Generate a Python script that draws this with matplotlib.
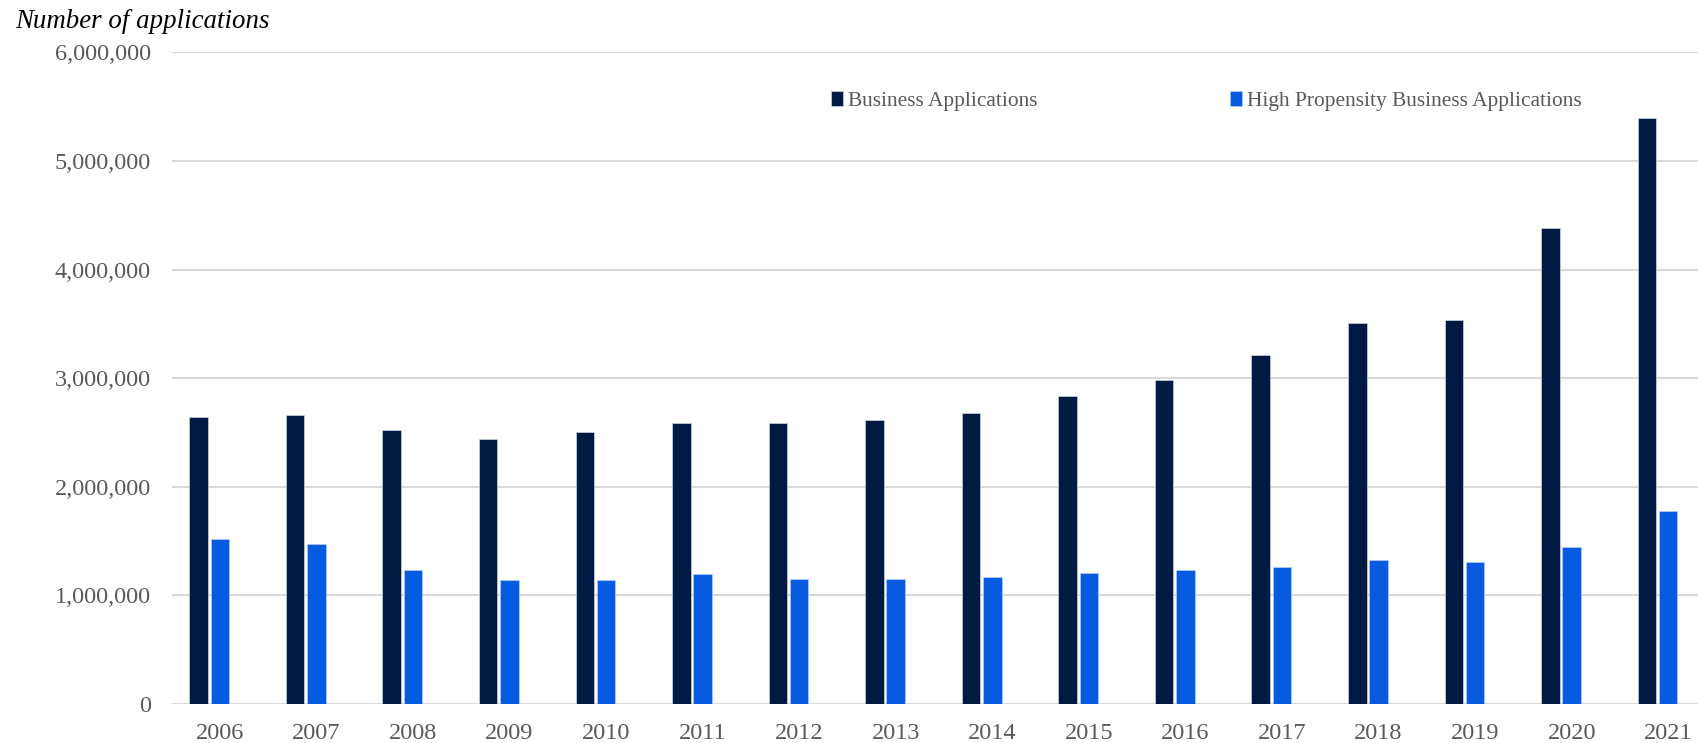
import numpy as np
from matplotlib import pyplot as plt
from matplotlib.ticker import FuncFormatter

"DATA"
years = [str(y) for y in range(2006, 2022)]
business_apps = [2640000, 2658000, 2526000, 2437000, 2507000, 2587000, 2587000, 2617000,
                 2677000, 2836000, 2985000, 3214000, 3512000, 3532000, 4384000, 5392000]
high_prop_apps = [1517000, 1470000, 1237000, 1139000, 1144000, 1194000, 1154000, 1154000,
                  1174000, 1204000, 1234000, 1264000, 1323000, 1303000, 1447000, 1778000]
y_ticks = [0, 1000000, 2000000, 3000000, 4000000, 5000000, 6000000]

"PLOT OPTIONS"
dark = '#011A42'
blue = '#065BE0'
grid_col = '#D9D9D9'
txt_col = '#595959'
plt.rcParams['font.family'] = ['Liberation Serif', 'DejaVu Serif']

W, H = 1698, 743
fig = plt.figure(figsize=(W/100, H/100), dpi=100)
left, right = 171.5/W, 1.0
bottom, top = 1 - 704/H, 1 - 52.4/H
ax = fig.add_axes([left, bottom, right-left, top-bottom])

x = np.arange(len(years))
bw = 0.192
off = 0.22
ax.bar(x - off, business_apps, width=bw, color=dark, edgecolor='#c9d3e3', linewidth=0.5,
       label='Business Applications', zorder=3)
ax.bar(x, high_prop_apps, width=bw, color=blue, edgecolor='#b8cdf2', linewidth=0.5,
       label='High Propensity Business Applications', zorder=3)

ax.set_ylim(0, 6000000)
ax.set_xlim(-0.5, (W - 219.5)/96.58)
ax.set_yticks(y_ticks)
ax.yaxis.set_major_formatter(FuncFormatter(lambda v, p: '{:,.0f}'.format(v)))
ax.set_xticks(x)
ax.set_xticklabels(years)
ax.tick_params(axis='both', length=0, labelsize=17.5, colors=txt_col)
ax.tick_params(axis='y', pad=15)
ax.tick_params(axis='x', pad=14)
ax.grid(axis='y', color=grid_col, linewidth=1.5, zorder=0)
ax.set_axisbelow(True)
for s in ax.spines.values():
    s.set_visible(False)

fig.text(15/W, 1 - 22/H, 'Number of applications', style='italic', fontsize=19.4,
         color='black', va='center', ha='left')

leg = ax.legend(ncol=2, loc='center left', bbox_to_anchor=((831 - 171.5)/(W - 171.5), (704 - 101)/(704 - 52.4)),
                frameon=False, fontsize=15.4, handlelength=0.55, handleheight=0.7,
                handletextpad=0.25, columnspacing=9.0, borderaxespad=0, borderpad=0)
for t in leg.get_texts():
    t.set_color(txt_col)

fig.savefig('out.png', dpi=100)
